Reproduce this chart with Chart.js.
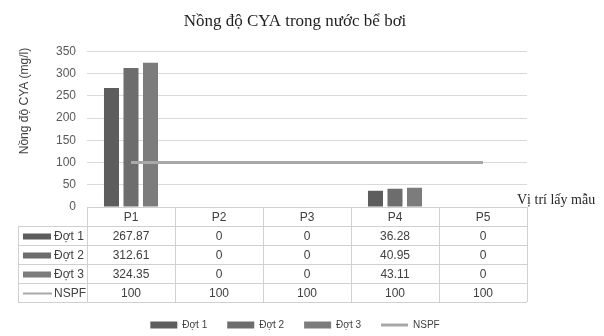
<!DOCTYPE html>
<html>
<head>
<meta charset="utf-8">
<script src="https://cdn.jsdelivr.net/npm/chart.js@4.4.1/dist/chart.umd.min.js"></script>
<style>
  html, body { margin: 0; padding: 0; background: #fff; }
  #wrap { width: 604px; height: 336px; }
</style>
</head>
<body>
<div id="wrap"><canvas id="chart"></canvas></div>
<script>
// data
const positions = ["P1", "P2", "P3", "P4", "P5"];
const dot1 = [267.87, 0, 0, 36.28, 0];
const dot2 = [312.61, 0, 0, 40.95, 0];
const dot3 = [324.35, 0, 0, 43.11, 0];
const nspf = [100, 100, 100, 100, 100];
const seriesNames = ["Đợt 1", "Đợt 2", "Đợt 3", "NSPF"];
const yTicks = [0, 50, 100, 150, 200, 250, 300, 350];

const SANS = "'Liberation Sans', Arial, sans-serif";
const SERIF = "'Liberation Serif', 'Times New Roman', serif";
const TXT = "#404040";

// data table under the plot + the two free-standing axis titles
const tablePlugin = {
    id: 'dataTable',
    afterDraw(chart) {
        const ctx = chart.ctx;
        const a = chart.chartArea;
        const x = chart.scales.x;
        const sets = chart.data.datasets;
        const n = chart.data.labels.length;
        const cw = (a.right - a.left) / n;
        const rowH = 19;
        const top = a.bottom;
        const left = 18;
        const bottom = top + rowH * (sets.length + 1);

        ctx.save();
        ctx.strokeStyle = "#d0d0d0";
        ctx.lineWidth = 1;
        ctx.beginPath();
        // horizontal lines
        ctx.moveTo(a.left, top + 0.5); ctx.lineTo(a.right, top + 0.5);
        for (let r = 1; r <= sets.length + 1; r++) {
            const yy = Math.round(top + r * rowH) + 0.5;
            ctx.moveTo(left, yy); ctx.lineTo(a.right, yy);
        }
        // vertical lines
        for (let c = 0; c <= n; c++) {
            const xx = Math.round(a.left + c * cw) + 0.5;
            ctx.moveTo(xx, top); ctx.lineTo(xx, bottom);
        }
        ctx.moveTo(left + 0.5, top + rowH); ctx.lineTo(left + 0.5, bottom);
        ctx.stroke();

        ctx.fillStyle = TXT;
        ctx.font = "12px " + SANS;
        ctx.textAlign = "center";
        ctx.textBaseline = "middle";
        chart.data.labels.forEach((lab, i) => {
            ctx.fillText(lab, x.getPixelForValue(i), top + rowH / 2 + 1);
        });
        sets.forEach((ds, r) => {
            const cy = top + (r + 1) * rowH + rowH / 2 + 1;
            ds.data.forEach((v, i) => {
                ctx.fillStyle = TXT;
                ctx.textAlign = "center";
                ctx.fillText(String(v), x.getPixelForValue(i), cy);
            });
            // row key
            if (ds.type === 'line') {
                ctx.strokeStyle = ds.borderColor;
                ctx.lineWidth = 2;
                ctx.beginPath();
                ctx.moveTo(23, cy); ctx.lineTo(52, cy);
                ctx.stroke();
            } else {
                ctx.fillStyle = ds.backgroundColor;
                ctx.fillRect(23, cy - 3, 28, 6);
            }
            ctx.fillStyle = TXT;
            ctx.textAlign = "left";
            ctx.fillText(ds.label, 54, cy);
        });

        // x axis title, to the right of the plot
        ctx.fillStyle = "#262626";
        ctx.font = "14px " + SERIF;
        ctx.textAlign = "left";
        ctx.fillText("Vị trí lấy mẫu", 517, 200);

        // y axis title
        ctx.translate(25, 101);
        ctx.rotate(-Math.PI / 2);
        ctx.fillStyle = TXT;
        ctx.font = "12px " + SANS;
        ctx.textAlign = "center";
        ctx.fillText("Nồng độ CYA (mg/l)", 0, 0);
        ctx.restore();
    }
};

const theChart = new Chart(document.getElementById("chart"), {
    type: 'bar',
    data: {
        labels: positions,
        datasets: [
            { label: seriesNames[0], data: dot1, backgroundColor: "#5d5d5d", borderWidth: 0 },
            { label: seriesNames[1], data: dot2, backgroundColor: "#6d6d6d", borderWidth: 0 },
            { label: seriesNames[2], data: dot3, backgroundColor: "#7c7c7c", borderWidth: 0 },
            {
                type: 'line', label: seriesNames[3], data: nspf,
                borderColor: "#a8a8a8", backgroundColor: "#a8a8a8",
                borderWidth: 3, pointRadius: 0, order: -1
            }
        ]
    },
    options: {
        responsive: true,
        maintainAspectRatio: false,
        animation: false,
        datasets: { bar: { categoryPercentage: 0.665, barPercentage: 0.77 } },
        layout: { padding: { left: 0, right: 14, top: 0, bottom: -4 } },
        scales: {
            x: {
                grid: { display: false },
                border: { display: false },
                ticks: { display: false },
                afterFit(s) { s.height = 93; }
            },
            y: {
                min: 0, max: 350,
                afterBuildTicks(s) { s.ticks = yTicks.map(v => ({ value: v })); },
                grid: { color: "#d9d9d9", drawTicks: false },
                border: { display: false },
                ticks: { color: "#595959", font: { size: 12, family: SANS }, padding: 11 },
                afterFit(s) { s.width = 87; }
            },
            // empty space on the right of the plot, where the x title sits
            side: {
                type: 'linear', position: 'right', display: true,
                grid: { display: false }, border: { display: false },
                ticks: { display: false },
                afterFit(s) { s.width = 63; }
            }
        },
        plugins: {
            title: {
                display: true,
                text: "Nồng độ CYA trong nước bể bơi",
                color: "#1f1f1f",
                font: { size: 17, family: SERIF, weight: 'normal' },
                padding: { top: 11, bottom: 20 }
            },
            legend: {
                position: 'bottom',
                labels: {
                    color: TXT,
                    font: { size: 10, family: SANS },
                    usePointStyle: true,
                    pointStyleWidth: 27,
                    boxHeight: 7,
                    padding: 20,
                    sort: (p, q) => p.datasetIndex - q.datasetIndex,
                    generateLabels(chart) {
                        const items = Chart.defaults.plugins.legend.labels.generateLabels(chart);
                        items.forEach(it => {
                            it.pointStyle = chart.data.datasets[it.datasetIndex].type === 'line' ? 'line' : 'rect';
                        });
                        return items;
                    }
                }
            },
            tooltip: { enabled: false }
        }
    },
    plugins: [tablePlugin]
});
</script>
</body>
</html>
